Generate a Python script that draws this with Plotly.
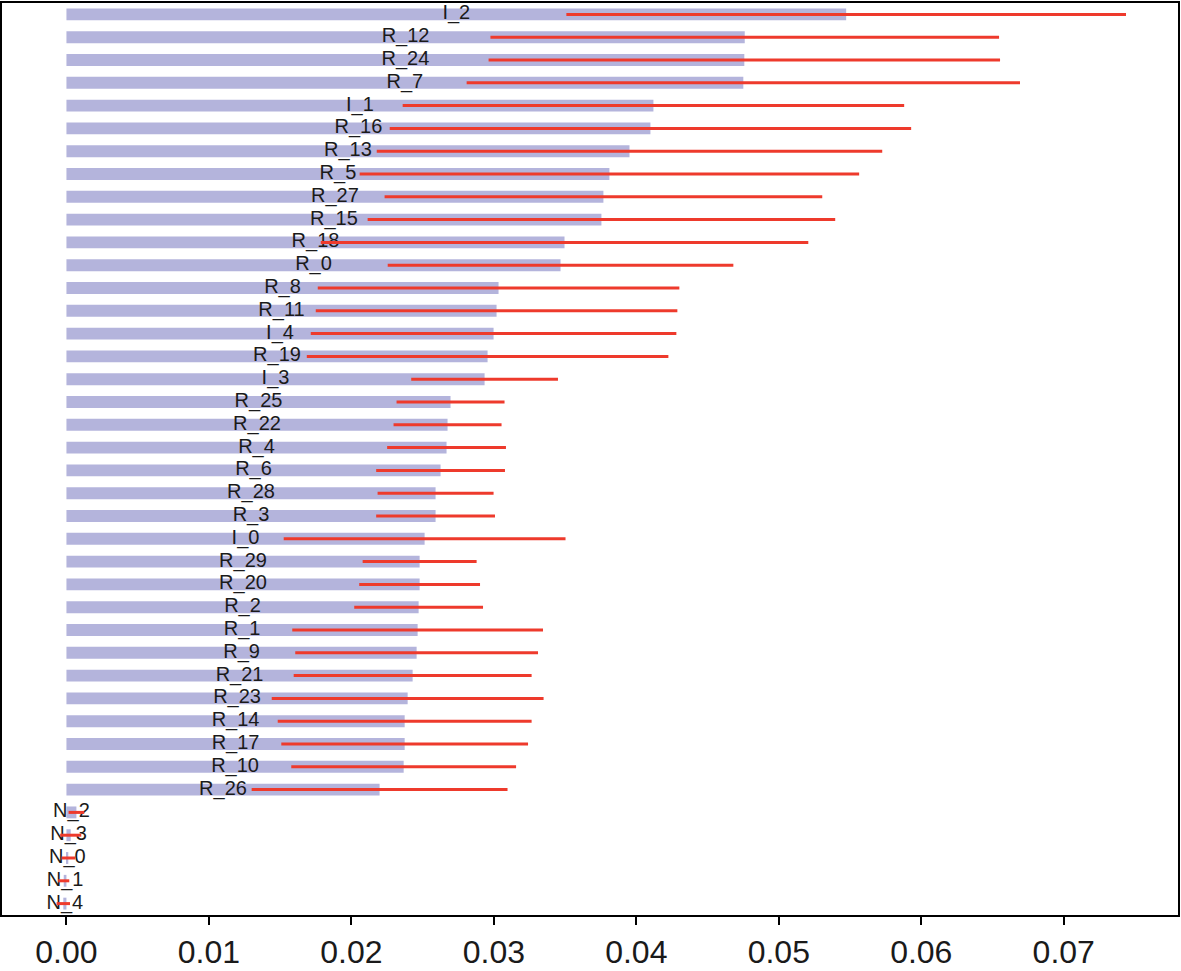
import plotly.graph_objects as go

# feature names, top to bottom as shown
features = [
    "I_2", "R_12", "R_24", "R_7", "I_1", "R_16", "R_13", "R_5", "R_27", "R_15",
    "R_18", "R_0", "R_8", "R_11", "I_4", "R_19", "I_3", "R_25", "R_22", "R_4",
    "R_6", "R_28", "R_3", "I_0", "R_29", "R_20", "R_2", "R_1", "R_9", "R_21",
    "R_23", "R_14", "R_17", "R_10", "R_26", "N_2", "N_3", "N_0", "N_1", "N_4",
]

# mean importance
importance = [
    0.05473, 0.04761, 0.04758, 0.04751, 0.04120, 0.04099, 0.03952, 0.03811, 0.03769, 0.03755,
    0.03496, 0.03468, 0.03033, 0.03019, 0.02998, 0.02956, 0.02935, 0.02696, 0.02675, 0.02668,
    0.02626, 0.02591, 0.02591, 0.02514, 0.02479, 0.02479, 0.02472, 0.02465, 0.02458, 0.02430,
    0.02395, 0.02374, 0.02374, 0.02367, 0.02198, 0.00070, 0.00030, 0.00013, -0.00019, -0.00022,
]

# std of importance (half length of red line)
importance_std = [
    0.01964, 0.01785, 0.01795, 0.01942, 0.01760, 0.01830, 0.01774, 0.01753, 0.01536, 0.01641,
    0.01711, 0.01213, 0.01269, 0.01269, 0.01283, 0.01269, 0.00515, 0.00379, 0.00379, 0.00417,
    0.00452, 0.00407, 0.00417, 0.00989, 0.00400, 0.00424, 0.00452, 0.00880, 0.00852, 0.00835,
    0.00954, 0.00891, 0.00866, 0.00789, 0.00898, 0.00055, 0.00074, 0.00047, 0.00039, 0.00047,
]

x_ticks = [0.00, 0.01, 0.02, 0.03, 0.04, 0.05, 0.06, 0.07]

fig = go.Figure()

# bars
fig.add_trace(go.Bar(
    x=importance, y=features, orientation="h",
    marker=dict(color="#b4b4dc", line_width=0),
    width=0.52, showlegend=False, hoverinfo="x+y",
))

# labels centred in each bar
fig.add_trace(go.Scatter(
    x=[v / 2 for v in importance], y=features, mode="text",
    text=features, textposition="middle center",
    textfont=dict(family="Liberation Sans, Arial, sans-serif", size=20, color="#1a1a1a"),
    showlegend=False, hoverinfo="skip",
))

# red std lines, drawn over the labels
fig.add_trace(go.Scatter(
    x=importance, y=features, mode="markers",
    marker=dict(size=1, color="rgba(0,0,0,0)"),
    error_x=dict(type="data", array=importance_std, symmetric=True,
                 color="#ee3a2c", thickness=3, width=0),
    showlegend=False,
))

fig.update_layout(
    width=1181, height=971,
    margin=dict(l=2, r=2, t=1, b=51),
    plot_bgcolor="white", paper_bgcolor="white",
    font=dict(family="Liberation Sans, Arial, sans-serif", color="#1a1a1a"),
    bargap=0.48,
)
fig.update_xaxes(
    range=[-0.004523, 0.07802],
    tickvals=x_ticks, tickformat=".2f",
    ticks="outside", ticklen=8, tickwidth=2, tickcolor="black",
    tickfont=dict(size=32),
    showgrid=False, zeroline=False,
    showline=True, linecolor="black", linewidth=2, mirror=True,
)
fig.update_yaxes(
    range=[39.5, -0.5], type="category",
    showticklabels=False, ticks="",
    showgrid=False, zeroline=False,
    showline=True, linecolor="black", linewidth=2, mirror=True,
)

# drop the browser's default page margin so the figure sits at the corner
fig.write_html("out.html", config={"displayModeBar": False},
               post_script="document.body.style.margin = '0';")
